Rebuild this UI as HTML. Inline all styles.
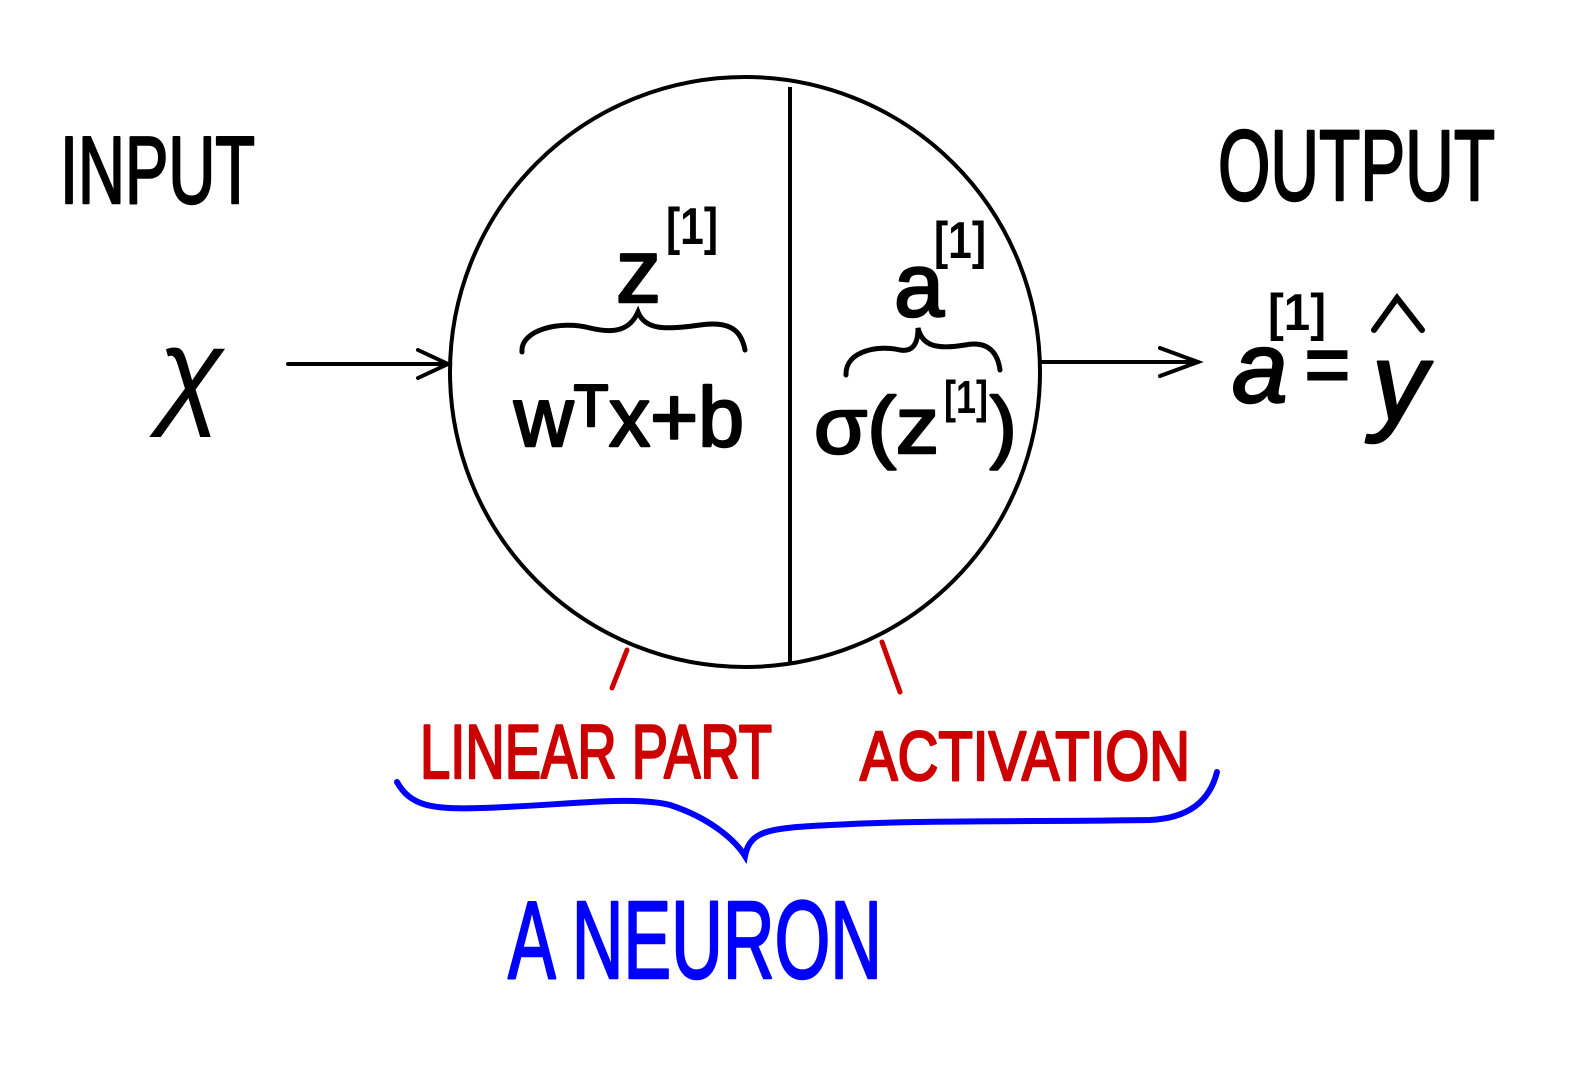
<!DOCTYPE html>
<html><head><meta charset="utf-8"><style>
html,body{margin:0;padding:0;background:#fff;}
svg{display:block;}
text{font-family:"Liberation Sans",sans-serif;}
.thick{stroke-width:2.5;stroke-linejoin:round;}
</style></head><body>
<svg width="1589" height="1070" viewBox="0 0 1589 1070" xmlns="http://www.w3.org/2000/svg">
<rect width="1589" height="1070" fill="#fff"/>
<g fill="none" stroke="#000" stroke-width="4">
<circle cx="745" cy="372" r="295"/>
<line x1="790" y1="87" x2="790" y2="663"/>
</g>
<g fill="none" stroke="#000" stroke-width="4" stroke-linecap="round">
<line x1="288" y1="364" x2="448" y2="364"/>
<polyline points="418,350 448,364 418,378"/>
</g>
<g fill="none" stroke="#000" stroke-width="4" stroke-linecap="round">
<line x1="1042" y1="362" x2="1198" y2="362"/>
<polyline points="1160,348 1198,362 1160,376"/>
</g>
<text class="thick" stroke="#000" x="60" y="203" font-size="96" textLength="195" lengthAdjust="spacingAndGlyphs">INPUT</text>
<text x="158" y="412" font-size="120" font-style="italic" font-family="DejaVu Serif,serif">χ</text>
<text class="thick" stroke="#000" x="1218" y="200" font-size="100" textLength="277" lengthAdjust="spacingAndGlyphs">OUTPUT</text>
<g>
<text class="thick" stroke="#000" x="616" y="302" font-size="90">z</text>
<text x="666" y="244" font-size="52" font-weight="bold" textLength="52" lengthAdjust="spacingAndGlyphs">[1]</text>
<path d="M522,352 C520,330 560,320 590,328 C615,334 630,330 638,312 C645,330 665,330 700,325 C735,320 742,335 745,350" fill="none" stroke="#000" stroke-width="5" stroke-linecap="round"/>
<text class="thick" stroke="#000" x="514" y="446" font-size="84" textLength="230" lengthAdjust="spacingAndGlyphs">wᵀx+b</text>
</g>
<g>
<text class="thick" stroke="#000" x="894" y="316" font-size="90">a</text>
<text x="934" y="258" font-size="52" font-weight="bold" textLength="52" lengthAdjust="spacingAndGlyphs">[1]</text>
<path d="M846,375 C845,350 880,345 900,350 C912,352 918,345 918,328 C922,345 935,350 965,345 C990,340 998,355 1000,370" fill="none" stroke="#000" stroke-width="5" stroke-linecap="round"/>
<text class="thick" stroke="#000" x="814" y="453" font-size="80" textLength="125" lengthAdjust="spacingAndGlyphs">σ(z</text>
<text x="944" y="413" font-size="46" font-weight="bold" textLength="44" lengthAdjust="spacingAndGlyphs">[1]</text>
<text class="thick" stroke="#000" x="990" y="453" font-size="80">)</text>
</g>
<g>
<text class="thick" stroke="#000" x="1232" y="402" font-size="100" font-style="italic">a</text>
<text x="1268" y="330" font-size="52" font-weight="bold" textLength="58" lengthAdjust="spacingAndGlyphs">[1]</text>
<text x="1304" y="392" font-size="80" font-weight="bold">=</text>
<text class="thick" stroke="#000" x="1372" y="420" font-size="110" font-style="italic">y</text>
<polyline points="1374,330 1397,298 1422,330" fill="none" stroke="#000" stroke-width="6" stroke-linecap="round"/>
</g>
<g stroke="#c00" stroke-width="5" stroke-linecap="round">
<line x1="627" y1="650" x2="612" y2="688"/>
<line x1="882" y1="642" x2="900" y2="692"/>
</g>
<text class="thick" stroke="#c00" x="420" y="778" font-size="76" fill="#c00" textLength="352" lengthAdjust="spacingAndGlyphs">LINEAR PART</text>
<text class="thick" stroke="#c00" x="860" y="780" font-size="70" fill="#c00" textLength="330" lengthAdjust="spacingAndGlyphs">ACTIVATION</text>
<path d="M397,782 C410,805 430,810 480,808 C560,806 630,795 670,805 C710,818 735,840 745,856 C750,830 770,828 830,825 C920,820 1000,822 1150,820 C1190,818 1210,800 1217,772" fill="none" stroke="#00f" stroke-width="6" stroke-linecap="round"/>
<text class="thick" stroke="#00f" x="508" y="978" font-size="110" fill="#00f" textLength="374" lengthAdjust="spacingAndGlyphs">A NEURON</text>
</svg>
</body></html>
